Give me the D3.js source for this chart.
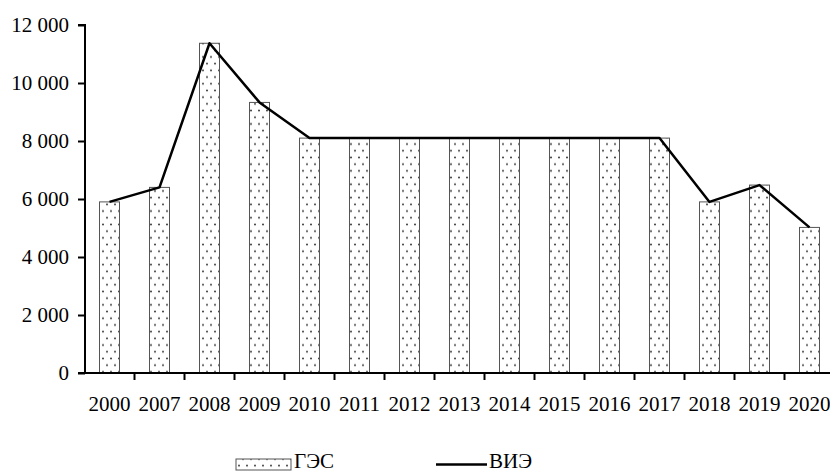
<html>
<head>
<meta charset="utf-8" />
<script src="https://d3js.org/d3.v7.min.js"></script>
<style>
  body { margin: 0; background: #fff; }
  text { font-family: "Liberation Serif", "Times New Roman", serif; }
</style>
</head>
<body>
<svg width="830" height="473"></svg>
<script>
// dati
var anni = ["2000","2007","2008","2009","2010","2011","2012","2013","2014","2015","2016","2017","2018","2019","2020"];
var ges = [5900, 6400, 11370, 9330, 8100, 8100, 8100, 8100, 8100, 8100, 8100, 8100, 5900, 6480, 5020];
var vie = [5900, 6400, 11370, 9330, 8100, 8100, 8100, 8100, 8100, 8100, 8100, 8100, 5900, 6480, 5020];
var yTicks = [0, 2000, 4000, 6000, 8000, 10000, 12000];
var legenda = ["ГЭС", "ВИЭ"];

var svg = d3.select("svg");

// motivo a puntini per le barre
var pat = svg.append("defs").append("pattern")
    .attr("id", "puntini")
    .attr("patternUnits", "userSpaceOnUse")
    .attr("width", 8).attr("height", 13.4);
pat.append("rect").attr("width", 8).attr("height", 13.4).attr("fill", "#fff");
pat.append("circle").attr("cx", 3).attr("cy", 3.3).attr("r", 1).attr("fill", "#333");
pat.append("circle").attr("cx", 7).attr("cy", 10).attr("r", 1).attr("fill", "#333");

var x = d3.scaleBand().domain(anni).range([84.5, 834.5]).paddingInner(0.6).paddingOuter(0.3);
var y = d3.scaleLinear().domain([0, 12000]).range([373, 25]);

var fmt = function(d) { return d3.format(",")(d).replace(",", " "); };

// barre
svg.selectAll(".bar").data(ges).enter().append("rect")
    .attr("class", "bar")
    .attr("x", function(d, i) { return x(anni[i]); })
    .attr("y", function(d) { return y(d); })
    .attr("width", x.bandwidth())
    .attr("height", function(d) { return y(0) - y(d); })
    .attr("fill", "url(#puntini)")
    .attr("stroke", "#555")
    .attr("stroke-width", 1);

// linea
var linea = d3.line()
    .x(function(d, i) { return x(anni[i]) + x.bandwidth() / 2; })
    .y(function(d) { return y(d); });
svg.append("path").datum(vie)
    .attr("d", linea)
    .attr("fill", "none")
    .attr("stroke", "#000")
    .attr("stroke-width", 2.5)
    .attr("stroke-linejoin", "round");

// asse y
var assey = svg.append("g").attr("transform", "translate(85,0)")
    .call(d3.axisLeft(y).tickValues(yTicks).tickFormat(fmt).tickSize(7).tickPadding(9));
assey.select(".domain").attr("stroke-width", 2).attr("d", "M-7,25H0V373");
assey.selectAll(".tick line").attr("stroke-width", 2);
assey.selectAll("text").attr("font-size", 21).attr("font-family", "Liberation Serif").attr("fill", "#000");

// asse x
var assex = svg.append("g").attr("transform", "translate(0,373)");
assex.append("line").attr("x1", 78).attr("x2", 830).attr("y1", 0).attr("y2", 0)
    .attr("stroke", "#000").attr("stroke-width", 2);
assex.selectAll(".tk").data(anni.slice(1)).enter().append("line")
    .attr("x1", function(d) { return x(d) - x.step() * x.paddingInner() / 2; })
    .attr("x2", function(d) { return x(d) - x.step() * x.paddingInner() / 2; })
    .attr("y1", 0).attr("y2", 7)
    .attr("stroke", "#000").attr("stroke-width", 2);
assex.selectAll(".lab").data(anni).enter().append("text")
    .attr("x", function(d) { return x(d) + x.bandwidth() / 2; })
    .attr("y", 38)
    .attr("text-anchor", "middle")
    .attr("font-size", 21)
    .text(function(d) { return d; });

// legenda
var leg = svg.append("g");
leg.append("rect").attr("x", 236).attr("y", 459).attr("width", 55).attr("height", 11)
    .attr("fill", "url(#puntini)").attr("stroke", "#555").attr("stroke-width", 1);
leg.append("text").attr("x", 294).attr("y", 468).attr("font-size", 21).text(legenda[0]);
leg.append("line").attr("x1", 436).attr("x2", 487).attr("y1", 464.5).attr("y2", 464.5)
    .attr("stroke", "#000").attr("stroke-width", 2.5);
leg.append("text").attr("x", 489).attr("y", 468).attr("font-size", 21).text(legenda[1]);
</script>
</body>
</html>
